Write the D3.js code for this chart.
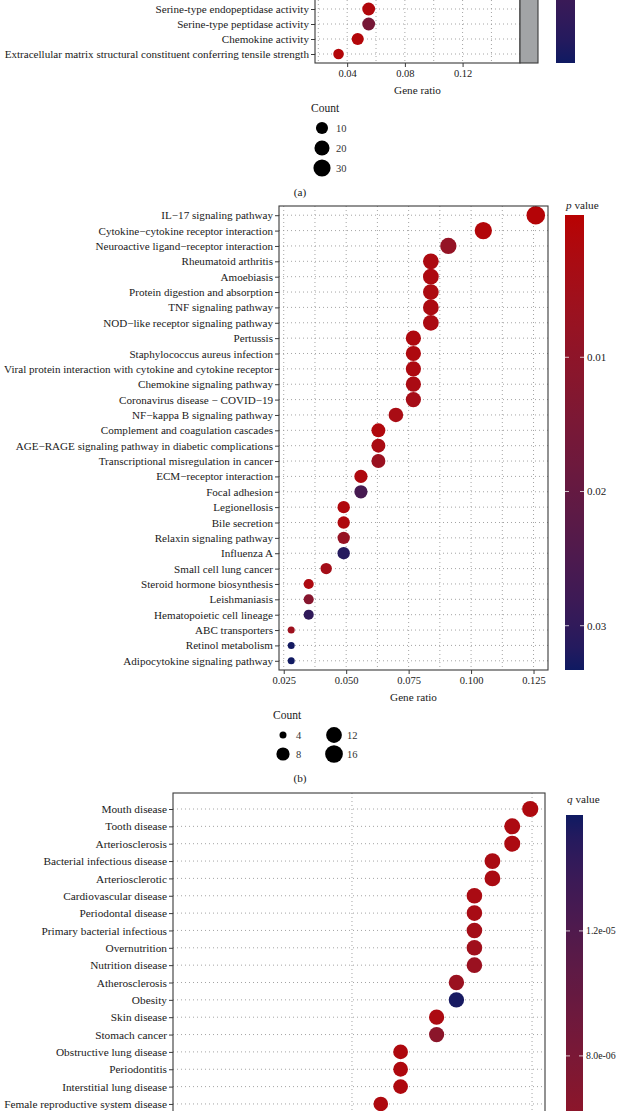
<!DOCTYPE html>
<html lang="en">
<head>
<meta charset="utf-8">
<title>Enrichment dot plots</title>
<script src="https://d3js.org/d3.v7.min.js"></script>
<style>
  body { margin: 0; background: #fff; }
  svg { display: block; }
</style>
</head>
<body>
<svg id="chart" width="622" height="1111"></svg>
<script>

// ---- (a) GO terms, only the last rows are in view ----
var termsA = ['Serine-type endopeptidase activity', 'Serine-type peptidase activity',
    'Chemokine activity', 'Extracellular matrix structural constituent conferring tensile strength'];
var ratioA = [0.0549, 0.0549, 0.0473, 0.0340];
var countA = [12, 12, 10, 7];
var pvalA = [0.003, 0.024, 0.002, 0.002];
var ticksA = [0.04, 0.08, 0.12];
var minorA = [0.02, 0.06, 0.10, 0.14];
var legendA = [10, 20, 30];

// ---- (b) KEGG pathways ----
var termsB = ['IL\u221217 signaling pathway', 'Cytokine\u2212cytokine receptor interaction',
    'Neuroactive ligand\u2212receptor interaction', 'Rheumatoid arthritis', 'Amoebiasis',
    'Protein digestion and absorption', 'TNF signaling pathway', 'NOD\u2212like receptor signaling pathway',
    'Pertussis', 'Staphylococcus aureus infection',
    'Viral protein interaction with cytokine and cytokine receptor', 'Chemokine signaling pathway',
    'Coronavirus disease \u2212 COVID\u221219', 'NF\u2212kappa B signaling pathway',
    'Complement and coagulation cascades', 'AGE\u2212RAGE signaling pathway in diabetic complications',
    'Transcriptional misregulation in cancer', 'ECM\u2212receptor interaction', 'Focal adhesion',
    'Legionellosis', 'Bile secretion', 'Relaxin signaling pathway', 'Influenza A',
    'Small cell lung cancer', 'Steroid hormone biosynthesis', 'Leishmaniasis',
    'Hematopoietic cell lineage', 'ABC transporters', 'Retinol metabolism',
    'Adipocytokine signaling pathway'];
var countB = [18, 15, 13, 12, 12, 12, 12, 12, 11, 11, 11, 11, 11, 10, 9, 9, 9, 8, 8,
    7, 7, 7, 7, 6, 5, 5, 5, 4, 4, 4];
var ratioB = [0.1259, 0.1049, 0.0909, 0.0839, 0.0839, 0.0839, 0.0839, 0.0839, 0.0769, 0.0769,
    0.0769, 0.0769, 0.0769, 0.0699, 0.0629, 0.0629, 0.0629, 0.0559, 0.0559, 0.0490,
    0.0490, 0.0490, 0.0490, 0.0420, 0.0350, 0.0350, 0.0350, 0.0280, 0.0280, 0.0280];
var pvalB = [0.0003, 0.0008, 0.0085, 0.0025, 0.0022, 0.0024, 0.0025, 0.0026, 0.0018, 0.0020,
    0.0022, 0.0030, 0.0040, 0.0032, 0.0015, 0.0030, 0.0068, 0.0020, 0.0262, 0.0015,
    0.0016, 0.0078, 0.0315, 0.0045, 0.0022, 0.0120, 0.0300, 0.0060, 0.0330, 0.0332];
var ticksB = [0.025, 0.050, 0.075, 0.100, 0.125];
var minorB = [0.0375, 0.0625, 0.0875, 0.1125];
var barTicksB = [0.01, 0.02, 0.03];
var legendB = [4, 8, 12, 16];

// ---- (c) disease terms, only the first rows are in view ----
var termsC = ['Mouth disease', 'Tooth disease', 'Arteriosclerosis', 'Bacterial infectious disease',
    'Arteriosclerotic', 'Cardiovascular disease', 'Periodontal disease',
    'Primary bacterial infectious', 'Overnutrition', 'Nutrition disease', 'Atherosclerosis',
    'Obesity', 'Skin disease', 'Stomach cancer', 'Obstructive lung disease', 'Periodontitis',
    'Interstitial lung disease', 'Female reproductive system disease'];
var countC = [29, 28, 28, 27, 27, 26, 26, 26, 26, 26, 25, 25, 24, 24, 22, 22, 22, 21];
var ratioC = [0.299, 0.289, 0.289, 0.278, 0.278, 0.268, 0.268, 0.268, 0.268, 0.268,
    0.258, 0.258, 0.247, 0.247, 0.227, 0.227, 0.227, 0.216];
var qvalC = [2.6e-6, 2.8e-6, 2.8e-6, 3.0e-6, 3.0e-6, 3.0e-6, 3.2e-6, 3.6e-6, 4.0e-6, 4.6e-6,
    4.6e-6, 1.55e-5, 2.8e-6, 6.2e-6, 2.5e-6, 2.5e-6, 2.5e-6, 2.6e-6];
var ticksC = [0.2, 0.3];
var minorC = [];
var barTicksC = [8.0e-6, 1.2e-5];

var font = '"Liberation Serif", "Times New Roman", serif';
var lowCol = '#b80202', highCol = '#0f1a62';
var inkCol = '#1a1a1a', frameCol = '#3a3a3a', gridCol = '#9a9a9a';

var svg = d3.select('#chart').attr('font-family', font);
svg.append('rect').attr('width', 622).attr('height', 1111).attr('fill', '#fff');
var defs = svg.append('defs');

function colourScale(domain) {
    return d3.scaleLinear().domain(domain).range([lowCol, highCol])
        .interpolate(d3.interpolateLab).clamp(true);
}

// like ggplot's area palette: radius grows with sqrt of the rescaled count
function areaSize(lo, hi, rLo, rHi) {
    var s = d3.scaleLinear().domain([0, 1]).range([rLo, rHi]);
    return function (c) { return s(Math.sqrt(Math.max(0, (c - lo) / (hi - lo)))); };
}

// R style scientific labels: 1.2e-05
function sciFormat(d) {
    return d3.format('.1e')(d).replace(/e[-\u2212](\d)$/, 'e-0$1');
}

function drawPanel(o) {
    var g = svg.append('g');
    var box = o.box;
    var x = d3.scaleLinear().domain(o.xDomain).range([box.left, box.right]);
    var y = d3.scalePoint().domain(o.terms).range(o.yRange).padding(o.yPad);
    var colour = colourScale(o.cDomain);

    // dotted grid
    g.append('g').selectAll('line').data(o.terms).join('line')
        .attr('x1', box.left).attr('x2', box.right)
        .attr('y1', function (d) { return y(d); }).attr('y2', function (d) { return y(d); })
        .attr('stroke', gridCol).attr('stroke-width', 0.9).attr('stroke-dasharray', '1 3');
    g.append('g').selectAll('line').data(o.xTicks.concat(o.xMinor)).join('line')
        .attr('x1', function (d) { return x(d); }).attr('x2', function (d) { return x(d); })
        .attr('y1', box.top).attr('y2', box.bottom)
        .attr('stroke', gridCol).attr('stroke-width', 0.9).attr('stroke-dasharray', '1 3');

    var rows = o.terms.map(function (t, i) {
        return { term: t, ratio: o.ratio[i], count: o.count[i], v: o.value[i] };
    });
    g.append('g').selectAll('circle').data(rows).join('circle')
        .attr('cx', function (d) { return x(d.ratio); })
        .attr('cy', function (d) { return y(d.term); })
        .attr('r', function (d) { return o.size(d.count); })
        .attr('fill', function (d) { return colour(d.v); });

    g.append('rect')
        .attr('x', box.left).attr('y', box.top)
        .attr('width', box.right - box.left).attr('height', box.bottom - box.top)
        .attr('fill', 'none').attr('stroke', frameCol).attr('stroke-width', 1.1);

    var ya = g.append('g').attr('transform', 'translate(' + box.left + ',0)')
        .call(d3.axisLeft(y).tickSize(4).tickPadding(2));
    ya.select('.domain').remove();
    ya.attr('font-family', font).attr('font-size', o.labelSize);
    ya.selectAll('line').attr('stroke', frameCol);
    ya.selectAll('text').attr('fill', inkCol);

    if (o.showX) {
        var xa = g.append('g').attr('transform', 'translate(0,' + box.bottom + ')')
            .call(d3.axisBottom(x).tickValues(o.xTicks).tickSize(4).tickPadding(3)
                .tickFormat(d3.format(o.xFormat)));
        xa.select('.domain').remove();
        xa.attr('font-family', font).attr('font-size', 10.5);
        xa.selectAll('line').attr('stroke', frameCol);
        xa.selectAll('text').attr('fill', inkCol);
        g.append('text').attr('x', (box.left + box.right) / 2).attr('y', box.bottom + 27)
            .attr('dy', '0.35em').attr('text-anchor', 'middle')
            .attr('font-size', 11.2).attr('fill', inkCol).text('Gene ratio');
    }
    return g;
}

function drawColourBar(o) {
    var g = svg.append('g');
    var colour = colourScale(o.cDomain);
    var by = d3.scaleLinear().domain(o.cDomain).range(o.yRange);
    var top = Math.min(o.yRange[0], o.yRange[1]), bottom = Math.max(o.yRange[0], o.yRange[1]);
    var stops = d3.range(0, 1.0001, 0.05).map(function (t) {
        var v = o.cDomain[0] + t * (o.cDomain[1] - o.cDomain[0]);
        return { off: (by(v) - top) / (bottom - top), col: colour(v) };
    }).sort(function (a, b) { return a.off - b.off; });
    defs.append('linearGradient').attr('id', o.id)
        .attr('x1', 0).attr('x2', 0).attr('y1', 0).attr('y2', 1)
        .selectAll('stop').data(stops).join('stop')
        .attr('offset', function (d) { return d.off; })
        .attr('stop-color', function (d) { return d.col; });
    g.append('rect').attr('x', o.x0).attr('y', top).attr('width', o.x1 - o.x0)
        .attr('height', bottom - top).attr('fill', 'url(#' + o.id + ')');
    g.selectAll('.tk').data(o.ticks).join('g').attr('class', 'tk').each(function (d) {
        var t = d3.select(this), yy = by(d);
        t.append('line').attr('x1', o.x0).attr('x2', o.x0 + 4).attr('y1', yy).attr('y2', yy)
            .attr('stroke', '#f2f2f2').attr('stroke-width', 0.8);
        t.append('line').attr('x1', o.x1 - 4).attr('x2', o.x1).attr('y1', yy).attr('y2', yy)
            .attr('stroke', '#f2f2f2').attr('stroke-width', 0.8);
        t.append('text').attr('x', o.x1 + 3).attr('y', yy).attr('dy', '0.35em')
            .attr('font-size', o.labelSize).attr('fill', inkCol).text(o.format(d));
    });
    if (o.title) {
        var tt = g.append('text').attr('x', o.x0 + 1).attr('y', o.titleY).attr('dy', '0.35em')
            .attr('font-size', 11.2).attr('fill', inkCol);
        tt.append('tspan').attr('font-style', 'italic').text(o.title);
        tt.append('tspan').text(' value');
    }
}

function drawSizeLegend(o) {
    var g = svg.append('g');
    g.append('text').attr('x', o.titleX).attr('y', o.titleY).attr('dy', '0.35em')
        .attr('font-size', 11.5).attr('fill', inkCol).text('Count');
    g.selectAll('g.key').data(o.counts).join('g').attr('class', 'key').each(function (d, i) {
        var k = d3.select(this), p = o.pos[i];
        k.append('circle').attr('cx', p[0]).attr('cy', p[1]).attr('r', o.size(d)).attr('fill', '#000');
        k.append('text').attr('x', p[0] + o.labelDx).attr('y', p[1]).attr('dy', '0.35em')
            .attr('font-size', 10.5).attr('fill', '#333').text(d);
    });
}

function caption(label, cx, cy) {
    svg.append('text').attr('x', cx).attr('y', cy).attr('dy', '0.35em')
        .attr('text-anchor', 'middle').attr('font-size', 11.2).attr('fill', inkCol).text(label);
}

// ---------- (a) ----------
var sizeA = areaSize(5, 35, 4, 9);
drawPanel({
    terms: termsA, ratio: ratioA, count: countA, value: pvalA,
    box: { left: 315, right: 520, top: -60, bottom: 63 },
    xDomain: [0.0177, 0.1598], yRange: [9, 54], yPad: 0,
    cDomain: [0, 0.05], size: sizeA, xTicks: ticksA, xMinor: minorA,
    xFormat: '.2f', showX: true, labelSize: 11.1
});
// facet strip on the right edge of panel (a)
svg.append('rect').attr('x', 520).attr('y', -60).attr('width', 18).attr('height', 123)
    .attr('fill', '#a2a4a6').attr('stroke', frameCol).attr('stroke-width', 1.1);
drawColourBar({
    id: 'barA', cDomain: [0, 0.05], yRange: [-390, 63], x0: 556, x1: 575, ticks: [],
    format: String, labelSize: 11
});
drawSizeLegend({
    counts: legendA, size: sizeA, titleX: 311, titleY: 108,
    pos: [[322, 128], [322, 148], [322, 168]], labelDx: 14
});
caption('(a)', 300, 192);

// ---------- (b) ----------
var extB = d3.extent(ratioB), padB = (extB[1] - extB[0]) * 0.05;
var sizeB = areaSize(4, 18, 3.5, 9.3);
drawPanel({
    terms: termsB, ratio: ratioB, count: countB, value: pvalB,
    box: { left: 279, right: 548, top: 206, bottom: 670 },
    xDomain: [extB[0] - padB, extB[1] + padB], yRange: [206, 670], yPad: 0.6,
    cDomain: [-0.0006, 0.0333], size: sizeB, xTicks: ticksB, xMinor: minorB,
    xFormat: '.3f', showX: true, labelSize: 11.1
});
drawColourBar({
    id: 'barB', cDomain: [-0.0006, 0.0333], yRange: [215, 670], x0: 565, x1: 584,
    ticks: barTicksB, format: d3.format('.2f'), labelSize: 11, title: 'p', titleY: 205
});
drawSizeLegend({
    counts: legendB, size: sizeB, titleX: 273, titleY: 715,
    pos: [[283, 735], [283, 754], [334, 735], [334, 754]], labelDx: 13
});
caption('(b)', 300, 778);

// ---------- (c) ----------
var sizeC = areaSize(10, 29, 4.6, 8.1);
var stepC = 17.35;
drawPanel({
    terms: termsC, ratio: ratioC, count: countC, value: qvalC,
    box: { left: 173, right: 545, top: 793, bottom: 1140 },
    xDomain: [0.1006, 0.3072], yRange: [809, 809 + stepC * (termsC.length - 1)], yPad: 0,
    cDomain: [1.5e-6, 1.571e-5], size: sizeC, xTicks: ticksC, xMinor: minorC,
    xFormat: '.1f', showX: false, labelSize: 11.3
});
drawColourBar({
    id: 'barC', cDomain: [1.5e-6, 1.571e-5], yRange: [1259, 815], x0: 566, x1: 583,
    ticks: barTicksC, format: sciFormat, labelSize: 9.8,
    title: 'q', titleY: 799
});

</script>
</body>
</html>
